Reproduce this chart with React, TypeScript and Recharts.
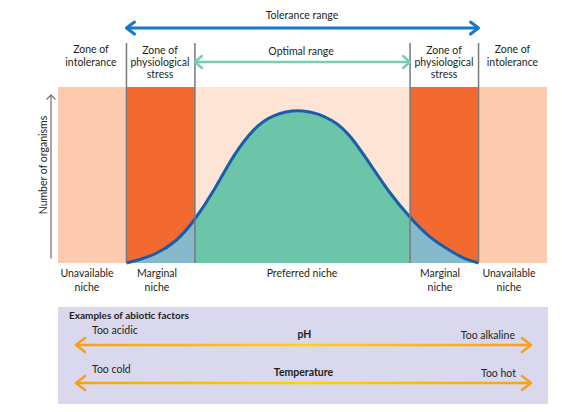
import { ComposedChart, Area, XAxis, YAxis, ReferenceArea, ReferenceLine } from "recharts";

// environmental gradient (0–100), zone edges and curve readings
const zoneEdges = [0, 14, 28, 72, 86, 100];
const gradientX = [14, 17, 20, 24, 28, 32, 36, 40, 44, 50, 56, 60, 64, 68, 72, 76, 80, 83, 86];
const organisms = [0, 2.3, 5.4, 12.5, 25, 42, 61, 75.5, 83.5, 86.4, 81, 71, 55.5, 39.5, 26, 15, 7.4, 2.8, 0];

const bandTop = 100;
const boundaryTop = 125;
const toleranceY = 133.5;
const optimalY = 114.2;

const chartData = gradientX.map((x, i) => ({ x, count: organisms[i] }));

const zoneColors = ["#fccaae", "#f26a2f", "#fde4d4", "#f26a2f", "#fccaae"];
const TEXT = "#231f20";
const FONT = "Lato, 'Open Sans', sans-serif";

function arrowShape(color: string, width: number, len: number, half: number) {
  return (props: any) => {
    const { x1, y1, x2, y2 } = props;
    const left = Math.min(x1, x2);
    const right = Math.max(x1, x2);
    return (
      <g fill="none" stroke={color} strokeWidth={width} strokeLinecap="round" strokeLinejoin="round">
        <line x1={left + 1} y1={y1} x2={right - 1} y2={y2} />
        <path d={`M${left + len},${y1 - half} L${left},${y1} L${left + len},${y1 + half}`} />
        <path d={`M${right - len},${y2 - half} L${right},${y2} L${right - len},${y2 + half}`} />
      </g>
    );
  };
}

function Txt({ x, y, lines, lh = 12.5, bold = false, size = 10.5, align = "center" }: any) {
  const tx = align === "center" ? "-50%" : align === "right" ? "-100%" : "0";
  return (
    <div
      style={{
        position: "absolute",
        left: x,
        top: y,
        transform: `translate(${tx}, -50%)`,
        fontSize: size,
        lineHeight: `${lh}px`,
        fontWeight: bold ? 700 : 400,
        color: TEXT,
        textAlign: align,
        whiteSpace: "nowrap",
      }}
    >
      {lines.map((l: string, i: number) => (
        <div key={i}>{l}</div>
      ))}
    </div>
  );
}

export default function App() {
  return (
    <div style={{ position: "relative", width: 562, height: 412, fontFamily: FONT, background: "#fff" }}>
      <style>{"body{margin:0}"}</style>
      <div style={{ position: "absolute", left: 0, top: 0 }}>
        <ComposedChart
          width={562}
          height={300}
          data={chartData}
          margin={{ top: 10, right: 15, bottom: 37, left: 58 }}
        >
          <defs>
            <linearGradient id="nicheFill" x1="0" y1="0" x2="1" y2="0">
              <stop offset="0%" stopColor="#86b9ca" />
              <stop offset="19.4%" stopColor="#86b9ca" />
              <stop offset="19.4%" stopColor="#6cc5a8" />
              <stop offset="80.6%" stopColor="#6cc5a8" />
              <stop offset="80.6%" stopColor="#86b9ca" />
              <stop offset="100%" stopColor="#86b9ca" />
            </linearGradient>
          </defs>
          <XAxis dataKey="x" type="number" domain={[0, 100]} hide />
          <YAxis type="number" domain={[0, 143.75]} hide />
          {zoneColors.map((c, i) => (
            <ReferenceArea
              key={i}
              x1={zoneEdges[i]}
              x2={zoneEdges[i + 1]}
              y1={0}
              y2={bandTop}
              fill={c}
              fillOpacity={1}
              stroke="none"
            />
          ))}
          <Area
            type="natural"
            dataKey="count"
            stroke="#1a5eab"
            strokeWidth={3}
            fill="url(#nicheFill)"
            fillOpacity={1}
            dot={false}
            activeDot={false}
            isAnimationActive={false}
          />
          {zoneEdges.slice(1, 5).map((x) => (
            <ReferenceLine
              key={x}
              segment={[
                { x, y: 0 },
                { x, y: boundaryTop },
              ]}
              stroke="#77797c"
              strokeWidth={1.5}
            />
          ))}
          <ReferenceLine
            segment={[
              { x: zoneEdges[1], y: toleranceY },
              { x: zoneEdges[4], y: toleranceY },
            ]}
            shape={arrowShape("#1878c8", 3, 8, 6)}
          />
          <ReferenceLine
            segment={[
              { x: zoneEdges[2], y: optimalY },
              { x: zoneEdges[3], y: optimalY },
            ]}
            shape={arrowShape("#72d0ae", 2.5, 7, 6)}
          />
        </ComposedChart>
      </div>

      {/* y axis arrow and abiotic factor panel */}
      <svg width={562} height={412} style={{ position: "absolute", left: 0, top: 0, pointerEvents: "none" }}>
        <g fill="none" stroke="#6d6e71" strokeWidth={1.2} strokeLinecap="round">
          <line x1={51} y1={258} x2={51} y2={95} />
          <path d="M47,99 L51,95 L55,99" />
        </g>
        <rect x={58} y={307} width={490} height={97} fill="#d9d8ec" />
        <defs>
          <linearGradient id="abiotic" gradientUnits="userSpaceOnUse" x1={76} y1={0} x2={531} y2={0}>
            <stop offset="0%" stopColor="#f5a01a" />
            <stop offset="50%" stopColor="#ffd400" />
            <stop offset="100%" stopColor="#f5a01a" />
          </linearGradient>
        </defs>
        {[345, 383].map((y) => (
          <g key={y} fill="none" stroke="url(#abiotic)" strokeWidth={2.5} strokeLinecap="round" strokeLinejoin="round">
            <line x1={77} y1={y} x2={530} y2={y} />
            <path d={`M85,${y - 7} L76,${y} L85,${y + 7}`} stroke="#f5a01a" />
            <path d={`M522,${y - 7} L531,${y} L522,${y + 7}`} stroke="#f5a01a" />
          </g>
        ))}
      </svg>

      <div
        style={{
          position: "absolute",
          left: 42.5,
          top: 165,
          transform: "translate(-50%, -50%) rotate(-90deg)",
          fontSize: 10.5,
          color: TEXT,
          whiteSpace: "nowrap",
        }}
      >
        Number of organisms
      </div>

      <Txt x={302} y={15} lines={["Tolerance range"]} />
      <Txt x={301} y={50.5} lines={["Optimal range"]} />
      <Txt x={91} y={55.3} lines={["Zone of", "intolerance"]} lh={12.5} />
      <Txt x={160} y={61.5} lines={["Zone of", "physiological", "stress"]} lh={12.3} />
      <Txt x={444} y={61.5} lines={["Zone of", "physiological", "stress"]} lh={12.3} />
      <Txt x={512.5} y={55.3} lines={["Zone of", "intolerance"]} lh={12.5} />

      <Txt x={87} y={279.7} lines={["Unavailable", "niche"]} lh={14} />
      <Txt x={157} y={279.7} lines={["Marginal", "niche"]} lh={14} />
      <Txt x={302} y={272.7} lines={["Preferred niche"]} />
      <Txt x={440} y={279.7} lines={["Marginal", "niche"]} lh={14} />
      <Txt x={509} y={279.7} lines={["Unavailable", "niche"]} lh={14} />

      <Txt x={69} y={315} lines={["Examples of abiotic factors"]} bold size={10} align="left" />
      <Txt x={92} y={330} lines={["Too acidic"]} align="left" />
      <Txt x={304.5} y={334} lines={["pH"]} bold />
      <Txt x={515} y={335} lines={["Too alkaline"]} align="right" />
      <Txt x={92} y={369} lines={["Too cold"]} align="left" />
      <Txt x={303.5} y={372} lines={["Temperature"]} bold />
      <Txt x={516} y={372.5} lines={["Too hot"]} align="right" />
    </div>
  );
}
